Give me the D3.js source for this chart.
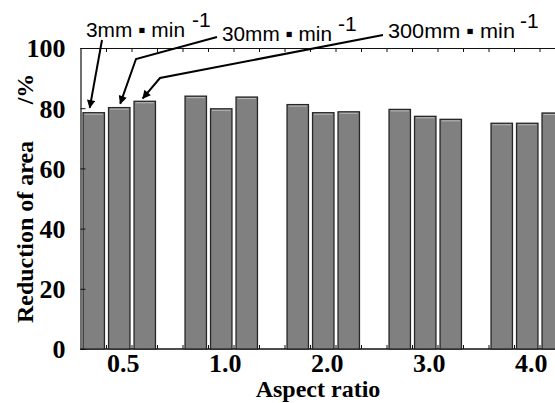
<!DOCTYPE html>
<html>
<head>
<meta charset="utf-8">
<script src="https://cdn.jsdelivr.net/npm/d3@7"></script>
<style>
  body { margin: 0; background: #fff; }
  .tick-label { font-family: "Liberation Serif", "Times New Roman", serif; font-weight: bold; font-size: 26px; }
  .title { font-family: "Liberation Serif", "Times New Roman", serif; font-weight: bold; font-size: 24px; }
  .note { font-family: "Liberation Sans Narrow", "Liberation Sans", Arial, sans-serif; font-size: 21px; }
</style>
</head>
<body>
<div id="chart"></div>
<script>
  // values
  var groups = ['0.5', '1.0', '2.0', '3.0', '4.0'];
  var speeds = ['3', '30', '300'];
  var reduction3 = [78.5, 84.0, 81.2, 79.6, 75.0];
  var reduction30 = [80.2, 79.8, 78.5, 77.3, 75.0];
  var reduction300 = [82.3, 83.7, 78.8, 76.3, 78.4];
  var yTicks = [0, 20, 40, 60, 80, 100];
  var noteLabels = ['3mm \u25AA min', '30mm \u25AA min', '300mm \u25AA min'];

  var W = 555, H = 403;
  var plotLeft = 80.5, plotTop = 48, plotBottom = 349;

  var svg = d3.select('#chart').append('svg')
    .attr('width', W)
    .attr('height', H);

  var y = d3.scaleLinear().domain([0, 100]).range([plotBottom, plotTop]);

  // 5 groups of 4 slots (3 bars + 1 empty slot)
  var x0 = d3.scaleBand().domain(groups).range([81, 591]);
  var x1 = d3.scaleBand().domain(speeds)
    .range([0, x0.bandwidth() * 3 / 4])
    .paddingInner(0.16)
    .paddingOuter(0.08);

  var series = [reduction3, reduction30, reduction300];
  var bars = [];
  groups.forEach(function (g, gi) {
    speeds.forEach(function (s, si) {
      bars.push({ group: g, speed: s, value: series[si][gi] });
    });
  });

  // frame lines
  svg.append('line')
    .attr('x1', plotLeft).attr('x2', W).attr('y1', plotTop + 0.5).attr('y2', plotTop + 0.5)
    .attr('stroke', '#111').attr('stroke-width', 1);
  svg.append('line')
    .attr('x1', plotLeft).attr('x2', W).attr('y1', plotBottom).attr('y2', plotBottom)
    .attr('stroke', '#111').attr('stroke-width', 1.5);

  // slot boundary ticks top and bottom
  var slotEdges = [];
  groups.forEach(function (g) {
    for (var k = 0; k < 4; k++) slotEdges.push(x0(g) + k * x1.step());
  });
  slotEdges = slotEdges.filter(function (d) { return d > plotLeft + 2 && d < W; });

  svg.append('g').selectAll('line')
    .data(slotEdges).enter().append('line')
    .attr('x1', function (d) { return d; }).attr('x2', function (d) { return d; })
    .attr('y1', plotTop).attr('y2', plotTop + 4)
    .attr('stroke', '#111').attr('stroke-width', 1);

  svg.append('g').selectAll('line')
    .data(slotEdges).enter().append('line')
    .attr('x1', function (d) { return d; }).attr('x2', function (d) { return d; })
    .attr('y1', plotBottom).attr('y2', plotBottom - 4)
    .attr('stroke', '#111').attr('stroke-width', 1);

  // bars
  var barG = svg.append('g');
  barG.selectAll('rect')
    .data(bars).enter().append('rect')
    .attr('x', function (d) { return x0(d.group) + x1(d.speed); })
    .attr('y', function (d) { return y(d.value); })
    .attr('width', x1.bandwidth())
    .attr('height', function (d) { return plotBottom - y(d.value); })
    .attr('fill', '#808080')
    .attr('stroke', '#262626')
    .attr('stroke-width', 1.3);

  // light highlight just under each bar top
  barG.selectAll('line')
    .data(bars).enter().append('line')
    .attr('x1', function (d) { return x0(d.group) + x1(d.speed) + 1.5; })
    .attr('x2', function (d) { return x0(d.group) + x1(d.speed) + x1.bandwidth() - 1.5; })
    .attr('y1', function (d) { return y(d.value) + 1.5; })
    .attr('y2', function (d) { return y(d.value) + 1.5; })
    .attr('stroke', '#b8b8b8')
    .attr('stroke-width', 1);

  // y axis
  var yAxis = svg.append('g')
    .attr('transform', 'translate(' + plotLeft + ',0)')
    .call(d3.axisLeft(y).tickValues(yTicks).tickSize(-5).tickPadding(15));
  yAxis.attr('font-family', null).attr('font-size', null);
  yAxis.select('.domain').attr('stroke', '#111').attr('stroke-width', 1.2);
  yAxis.selectAll('.tick line').attr('stroke', '#111');
  yAxis.selectAll('.tick text')
    .attr('class', 'tick-label')
    .attr('fill', '#000')
    .attr('dy', '0.34em');

  // x category labels
  svg.append('g').selectAll('text')
    .data(groups).enter().append('text')
    .attr('class', 'tick-label')
    .attr('text-anchor', 'middle')
    .attr('x', function (g) { return x0(g) + x1('30') + x1.bandwidth() / 2 + 4; })
    .attr('y', 372)
    .text(function (g) { return g; });

  // axis titles
  svg.append('text')
    .attr('class', 'title')
    .attr('text-anchor', 'middle')
    .attr('x', 318).attr('y', 397)
    .text('Aspect ratio');

  svg.append('text')
    .attr('class', 'title')
    .attr('text-anchor', 'middle')
    .attr('transform', 'translate(33,232) rotate(-90)')
    .text('Reduction of area');

  svg.append('text')
    .attr('class', 'title')
    .attr('text-anchor', 'middle')
    .attr('transform', 'translate(33,89) rotate(-90)')
    .text('/%');

  // annotations: speed labels with arrows to the first group
  svg.append('defs').append('marker')
    .attr('id', 'head')
    .attr('viewBox', '0 0 10 10')
    .attr('refX', 9).attr('refY', 5)
    .attr('markerWidth', 5.5).attr('markerHeight', 4.2)
    .attr('markerUnits', 'strokeWidth')
    .attr('orient', 'auto')
    .append('path')
    .attr('d', 'M0,0 L10,5 L0,10 Z')
    .attr('fill', '#000');

  var notes = [
    { x: 86, y: 37, len: 99, supX: 192, from: [[102, 40]], dx: -4, dy: -5 },
    { x: 222, y: 41, len: 110, supX: 338, from: [[217, 37], [136, 59]], dx: 1, dy: -4 },
    { x: 388, y: 38, len: 127, supX: 520, from: [[383, 35], [160, 78]], dx: -2, dy: -3 }
  ];

  notes.forEach(function (n, i) {
    var t = svg.append('text').attr('class', 'note').attr('x', n.x).attr('y', n.y);
    t.append('tspan')
      .attr('textLength', n.len)
      .attr('lengthAdjust', 'spacingAndGlyphs')
      .text(noteLabels[i]);
    svg.append('text')
      .attr('class', 'note')
      .attr('x', n.supX).attr('y', n.y - 10)
      .attr('font-size', 13)
      .text('-1');

    var g0 = groups[0];
    var tip = [
      x0(g0) + x1(speeds[i]) + x1.bandwidth() / 2 + n.dx,
      y(series[i][0]) + n.dy
    ];
    svg.append('path')
      .attr('d', d3.line()(n.from.concat([tip])))
      .attr('fill', 'none')
      .attr('stroke', '#000')
      .attr('stroke-width', 2)
      .attr('marker-end', 'url(#head)');
  });
</script>
</body>
</html>
